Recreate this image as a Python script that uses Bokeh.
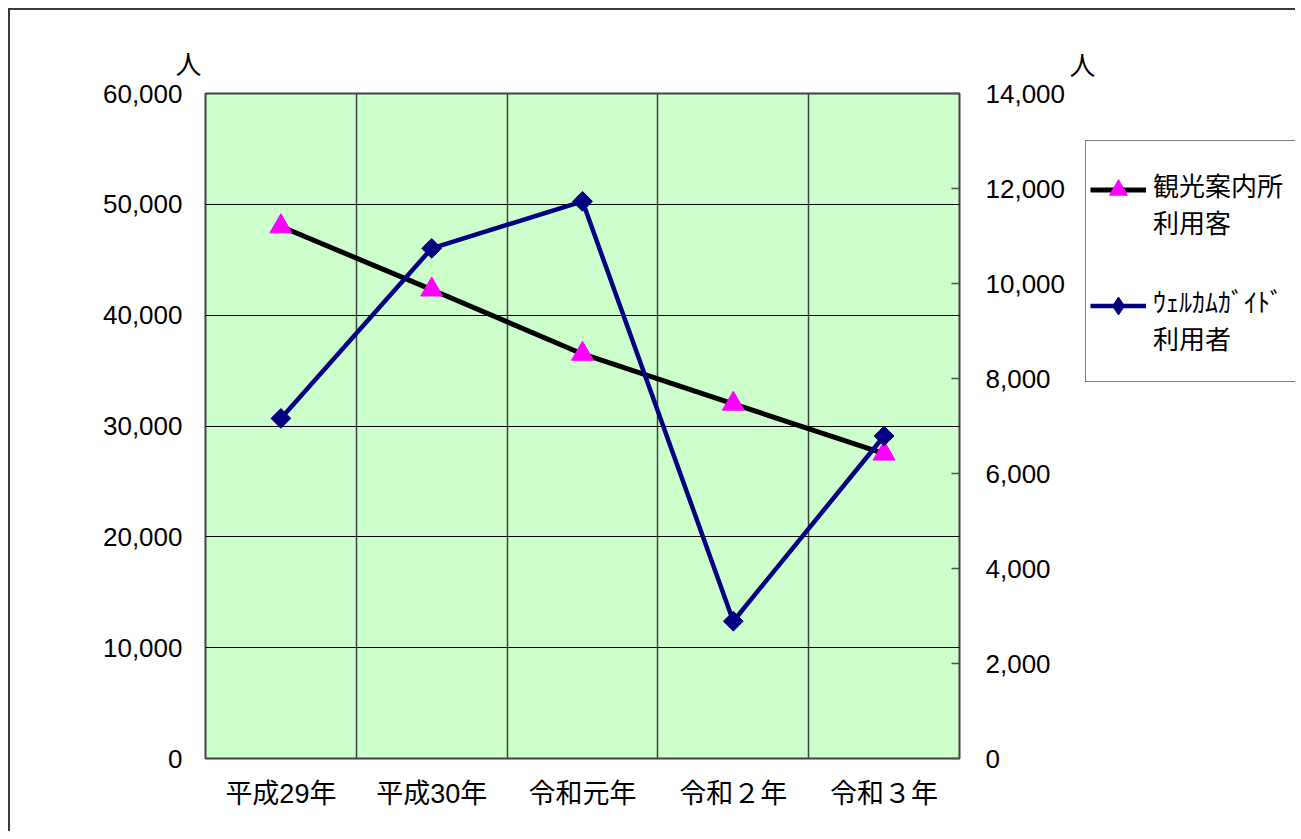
from bokeh.plotting import figure
from bokeh.layouts import row
from bokeh.models import (LinearAxis, Range1d, FixedTicker, NumeralTickFormatter,
                          Legend, LegendItem, Title, ColumnDataSource)
from bokeh.embed import file_html
from bokeh.resources import INLINE
import math

# ---- data ----
categories = ["平成29年", "平成30年", "令和元年", "令和２年", "令和３年"]
visitors = [48000, 42300, 36500, 32000, 27500]      # 観光案内所利用客 (left axis)
guide_users = [7160, 10740, 11730, 2890, 6790]      # ｳｪﾙｶﾑｶﾞｲﾄﾞ利用者 (right axis)
left_ticks = [0, 10000, 20000, 30000, 40000, 50000, 60000]
right_ticks = [0, 2000, 4000, 6000, 8000, 10000, 12000, 14000]
unit_label = "人"
legend_labels = ["観光案内所\n利用客", "ｳｪﾙｶﾑｶﾞｲﾄﾞ\n利用者"]

xs = list(range(1, len(categories) + 1))
src = ColumnDataSource(dict(x=xs, v=visitors, g=guide_users))

FONT_NUM = "Liberation Sans, Noto Sans CJK JP"
FONT_JP = "Noto Sans CJK JP"
TOP, FH, BOT = 93, 665, 73

# ---------------- main chart ----------------
p = figure(frame_width=754, frame_height=FH,
           min_border_left=205, min_border_right=107,
           min_border_top=TOP, min_border_bottom=BOT,
           x_range=Range1d(0.5, len(categories) + 0.5),
           y_range=Range1d(left_ticks[0], left_ticks[-1]),
           output_backend="svg", toolbar_location=None)
p.border_fill_alpha = 0
p.background_fill_color = "#CCFFCC"
p.outline_line_color = "#404040"
p.outline_line_width = 2
p.extra_y_ranges = {"right": Range1d(right_ticks[0], right_ticks[-1])}

p.xaxis.ticker = FixedTicker(ticks=xs)
p.xaxis.major_label_overrides = {x: c for x, c in zip(xs, categories)}
p.xaxis.major_tick_line_color = None
p.xaxis.major_tick_out = 0
p.xaxis.major_tick_in = 0
p.xaxis.minor_tick_line_color = None
p.xaxis.axis_line_color = None
p.xaxis.major_label_text_font = FONT_NUM
p.xaxis.major_label_text_font_size = "27px"
p.xaxis.major_label_text_color = "black"
p.xaxis.major_label_standoff = 20

p.yaxis.ticker = FixedTicker(ticks=left_ticks)
p.yaxis.formatter = NumeralTickFormatter(format="0,0")
p.yaxis.major_tick_line_color = None
p.yaxis.major_tick_out = 0
p.yaxis.major_tick_in = 0
p.yaxis.minor_tick_line_color = None
p.yaxis.axis_line_color = None
p.yaxis.major_label_text_font = FONT_NUM
p.yaxis.major_label_text_font_size = "26px"
p.yaxis.major_label_text_color = "black"
p.yaxis.major_label_standoff = 23

ry = LinearAxis(y_range_name="right", ticker=FixedTicker(ticks=right_ticks),
                formatter=NumeralTickFormatter(format="0,0"))
ry.major_tick_in = 8
ry.major_tick_out = 0
ry.major_tick_line_color = "#505050"
ry.major_tick_line_width = 1.5
ry.minor_tick_line_color = None
ry.axis_line_color = None
ry.major_label_text_font = FONT_NUM
ry.major_label_text_font_size = "26px"
ry.major_label_text_color = "black"
ry.major_label_standoff = 26
p.add_layout(ry, "right")

p.xgrid.ticker = FixedTicker(ticks=[x + 0.5 for x in xs[:-1]])
p.xgrid.grid_line_color = "#404040"
p.xgrid.grid_line_width = 1.5
p.ygrid.ticker = FixedTicker(ticks=left_ticks[1:-1])
p.ygrid.grid_line_color = "black"
p.ygrid.grid_line_width = 1

p.line("x", "v", source=src, line_color="black", line_width=5)
p.scatter("x", "v", source=src, marker="triangle", size=22,
          fill_color="#FF00FF", line_color="#FF00FF")
p.line("x", "g", source=src, y_range_name="right", line_color="#000080", line_width=4.5)
p.scatter("x", "g", source=src, y_range_name="right", marker="square",
          angle=math.pi / 4, size=14, fill_color="#000080", line_color="#000080")

p.add_layout(Title(text=unit_label, align="left", offset=-30, standoff=26,
                   text_font=FONT_JP, text_font_size="26px", text_font_style="normal",
                   text_color="black"), "above")

# ---------------- legend panel (right of the chart) ----------------
X0 = 1066
W2 = 1293 - X0
q = figure(frame_width=W2, frame_height=FH, min_border_left=0, min_border_right=0,
           min_border_top=TOP, min_border_bottom=BOT,
           x_axis_location=None, y_axis_location=None,
           x_range=Range1d(-1, 0), y_range=Range1d(0, 1),
           output_backend="svg", toolbar_location=None)
q.border_fill_alpha = 0
q.background_fill_alpha = 0
q.outline_line_color = None
q.grid.visible = False

# legend glyph renderers (their data lie outside this panel's ranges, so only
# the legend swatches show)
la = q.line("x", "v", source=src, line_color="black", line_width=5)
ma = q.scatter("x", "v", source=src, marker="triangle", size=22,
               fill_color="#FF00FF", line_color="#FF00FF")
lb = q.line("x", "g", source=src, line_color="#000080", line_width=4.5)
mb = q.scatter("x", "g", source=src, marker="diamond", size=22,
               fill_color="#000080", line_color="#000080")
blank = q.line("x", "v", source=src, line_alpha=0)

def frame_y(page_y):
    return TOP + FH - page_y

# box + two-line labels
legA = Legend(items=[LegendItem(label=legend_labels[0], renderers=[blank]),
                     LegendItem(label=legend_labels[1], renderers=[blank])],
              location=(1083 - X0, frame_y(382)))
legA.border_line_color = "black"
legA.border_line_width = 1
legA.background_fill_color = "white"
legA.background_fill_alpha = 1
legA.label_text_font = FONT_JP
legA.label_text_font_size = "26px"
legA.label_text_line_height = 1.3
legA.label_text_color = "black"
legA.glyph_width = 52
legA.glyph_height = 34
legA.label_standoff = 5
legA.padding = 10
legA.spacing = 12
legA.margin = 0
legA.label_width = 135
legA.label_height = 104
q.add_layout(legA, "center")

# swatches aligned with the first line of each label
legB = Legend(items=[LegendItem(label="", renderers=[la, ma]),
                     LegendItem(label="", renderers=[lb, mb])],
              location=(1088 - X0, frame_y(327.5)))
legB.border_line_color = None
legB.background_fill_alpha = 0
legB.glyph_width = 56
legB.glyph_height = 45
legB.label_standoff = 0
legB.label_width = 0
legB.label_height = 34
legB.padding = 0
legB.spacing = 71
legB.margin = 0
legB.label_text_font_size = "1px"
q.add_layout(legB, "center")

q.add_layout(Title(text=unit_label, align="left", offset=1, standoff=24,
                   text_font=FONT_JP, text_font_size="26px", text_font_style="normal",
                   text_color="black"), "above")

layout = row(p, q)
layout.styles = {"background": "linear-gradient(#3a3a3a,#3a3a3a) 8px 8px / 2000px 2px no-repeat, "
                               "linear-gradient(#3a3a3a,#3a3a3a) 8px 8px / 2px 2000px no-repeat, white"}

open("out.html", "w").write(file_html(layout, INLINE))
